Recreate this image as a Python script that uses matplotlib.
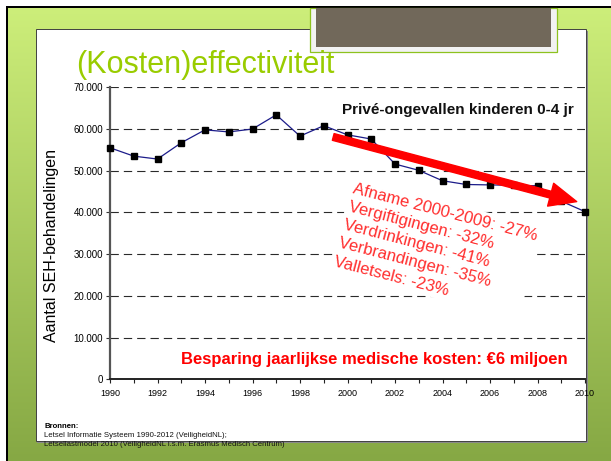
import numpy as np
import matplotlib
matplotlib.use("Agg")
import matplotlib.pyplot as plt
from matplotlib.patches import Rectangle, FancyArrowPatch
from matplotlib.ticker import FuncFormatter, MultipleLocator

plt.rcParams['font.family'] = ['Liberation Sans', 'DejaVu Sans']

# -------- DATA --------
years = list(range(1990, 2011))
treatments = [55500, 53500, 52800, 56700, 59800, 59300, 60000, 63400, 58300, 60800,
              58600, 57600, 51600, 50100, 47600, 46700, 46600, 46500, 46400, 42700, 40200]

# trend arrow (year, value) start -> end
trend_start = (1999.4, 58100)
trend_end = (2009.65, 42600)

slide_title = "(Kosten)effectiviteit"
chart_title = "Privé-ongevallen kinderen 0-4 jr"
y_label = "Aantal SEH-behandelingen"
decline_lines = [
    "Afname 2000-2009: -27%",
    "Vergiftigingen: -32%",
    "Verdrinkingen: -41%",
    "Verbrandingen: -35%",
    "Valletsels: -23%",
]
savings_text = "Besparing jaarlijkse medische kosten: €6 miljoen"
sources_head = "Bronnen:"
sources = [
    "Letsel Informatie Systeem 1990-2012 (VeiligheidNL);",
    "Letsellastmodel 2010 (VeiligheidNL i.s.m. Erasmus Medisch Centrum)",
]

# -------- COLORS --------
GREEN_TITLE = '#99cc00'
RED = '#ff0000'
RED_TEXT = '#ff2d2d'
LINE_BLUE = '#1c1c8a'

W, H = 611, 461
fig = plt.figure(figsize=(W / 100, H / 100), dpi=100)
fig.patch.set_facecolor('white')

# -------- SLIDE BACKGROUND (pixel coords) --------
bg = fig.add_axes([0, 0, 1, 1])
bg.set_xlim(0, W)
bg.set_ylim(H, 0)
bg.axis('off')

top_col = np.array([205, 238, 122]) / 255
bot_col = np.array([134, 168, 68]) / 255
t = np.linspace(0, 1, 300)[:, None]
grad = top_col * (1 - t) + bot_col * t
grad = np.repeat(grad[:, None, :], 2, axis=1).reshape(300, 2, 3)
bg.imshow(grad, extent=(8, W, H, 8), aspect='auto', interpolation='bilinear', zorder=0)

# black frame lines top/left
bg.add_patch(Rectangle((6, 6), W - 6, 2, facecolor='black', edgecolor='none', zorder=1))
bg.add_patch(Rectangle((6, 6), 2, H - 6, facecolor='black', edgecolor='none', zorder=1))

# white content panel with shadow
bg.add_patch(Rectangle((37, 31), 551, 412, facecolor='#8a8a8a', edgecolor='none', zorder=1))
bg.add_patch(Rectangle((35.5, 29.5), 550, 411, facecolor='white', edgecolor='#404040',
                       linewidth=0.7, zorder=2))

# dark box at top
bg.add_patch(Rectangle((310, 8), 247, 44, facecolor='#f2f2f2', edgecolor='#8dc21f',
                       linewidth=0.9, zorder=3))
bg.add_patch(Rectangle((316, 8), 235, 39, facecolor='#71685a', edgecolor='none', zorder=3))

bg.text(76, 73, slide_title, fontsize=22, color=GREEN_TITLE, ha='left', va='baseline', zorder=4)

# sources
bg.text(44.5, 426, sources_head, fontsize=5.6, fontweight='bold', color='black', va='center', zorder=4)
for i, s in enumerate(sources):
    bg.text(44.5, 435.3 + 9.3 * i, s, fontsize=5.6, color='#111111', va='center', zorder=4)

# -------- CHART --------
ax = fig.add_axes([110 / W, 1 - 379.3 / H, 475 / W, 292 / H])
ax.patch.set_alpha(0)

ax.set_xlim(1990, 2010)
ax.set_ylim(0, 70000)

for v in range(10000, 70001, 10000):
    ax.axhline(v, color='#2a2a2a', linewidth=0.8, linestyle=(0, (7.5, 4.5)), zorder=1)

ax.plot(years, treatments, color=LINE_BLUE, linewidth=0.9, marker='s', markersize=4.4,
        markerfacecolor='black', markeredgecolor='black', zorder=3, clip_on=False)

# rotated decline text on white box
ax.text(2000.32, 47500, "\n".join(decline_lines), rotation=-14.5, rotation_mode='anchor',
        ha='left', va='top', fontsize=12, color=RED_TEXT, linespacing=1.32,
        bbox=dict(facecolor='white', edgecolor='none', pad=2), zorder=4)

arrow = FancyArrowPatch(trend_start, trend_end,
                        arrowstyle='simple,head_length=1.94,head_width=1.7,tail_width=0.5',
                        mutation_scale=10, color=RED, shrinkA=0, shrinkB=0, zorder=5)
ax.add_patch(arrow)

ax.text(0.977, 0.9075, chart_title, transform=ax.transAxes, ha='right', va='baseline',
        fontsize=11, fontweight='bold', color='#111111', zorder=6)
ax.text(0.557, 0.0524, savings_text, transform=ax.transAxes, ha='center', va='baseline',
        fontsize=12, fontweight='bold', color=RED, zorder=6)

# axes styling
for side in ['top', 'right']:
    ax.spines[side].set_visible(False)
ax.spines['left'].set_color('#555555')
ax.spines['left'].set_linewidth(1.6)
ax.spines['bottom'].set_color('#222222')
ax.spines['bottom'].set_linewidth(1.4)

ax.set_xticks(range(1990, 2011, 2))
ax.xaxis.set_minor_locator(MultipleLocator(1))
ax.set_yticks(range(0, 70001, 10000))
ax.yaxis.set_major_formatter(FuncFormatter(lambda v, p: f"{int(v):,}".replace(',', '.')))

ax.tick_params(axis='y', which='both', direction='out', length=3, width=0.8,
               color='#333333', labelsize=7, pad=2)
ax.tick_params(axis='x', which='both', direction='out', length=3, width=0.8,
               color='#222222', labelsize=6.5, pad=4)

fig.text(51.5 / W, 1 - 245 / H, y_label, rotation=90, ha='center', va='center', fontsize=11.5)

plt.savefig("out.png", dpi=100)
plt.close()
